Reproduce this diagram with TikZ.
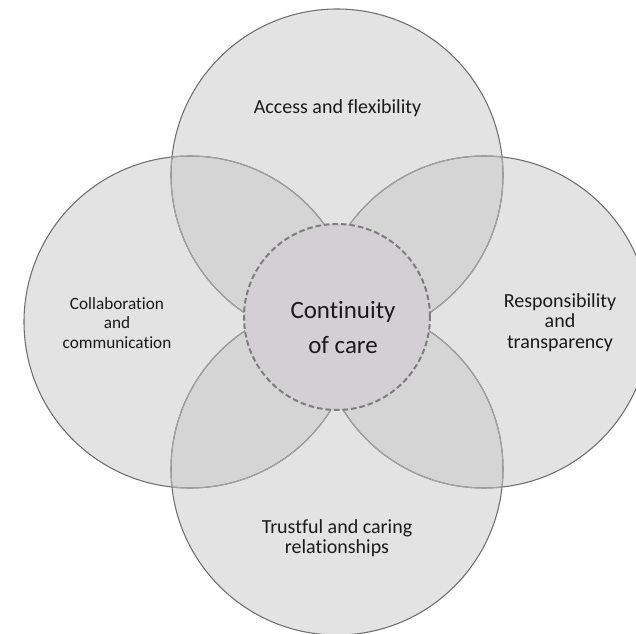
\documentclass[tikz,border=0pt]{standalone}
\usepackage{fontspec}
\setmainfont{Carlito}[Ligatures=NoCommon]
\definecolor{petal}{HTML}{E3E3E3}
\definecolor{lens}{HTML}{D5D5D5}
\definecolor{edge}{HTML}{6E6E6E}
\definecolor{inedge}{HTML}{A2A2A2}
\definecolor{core}{HTML}{D2D0D2}
\definecolor{coreedge}{HTML}{7E7E7E}
\definecolor{txt}{HTML}{1A1A1A}
\tikzset{
  label15/.style={text=txt, align=center, font=\fontsize{15}{15.4}\selectfont, inner sep=0pt},
  label13/.style={text=txt, align=center, font=\fontsize{12.9}{14.6}\selectfont, inner sep=0pt},
  corelabel/.style={text=txt, align=center, font=\fontsize{18.7}{26}\selectfont, inner sep=0pt},
  petaledge/.style={draw=edge, line width=0.8pt},
  petalinner/.style={draw=inedge, line width=0.8pt},
}
\begin{document}
\begin{tikzpicture}[x=0.75pt,y=-0.75pt]
\useasboundingbox (0,0) rectangle (636,634);
\def\R{166}
\coordinate (T) at (337,175);
\coordinate (L) at (190,322);
\coordinate (Rc) at (484,322);
\coordinate (B) at (337,469);
% base fills
\foreach \c in {T,L,Rc,B} \fill[petal] (\c) circle (\R);
% lens overlaps
\begin{scope}
  \clip (T) circle (\R);
  \fill[lens] (L) circle (\R);
  \fill[lens] (Rc) circle (\R);
\end{scope}
\begin{scope}
  \clip (B) circle (\R);
  \fill[lens] (L) circle (\R);
  \fill[lens] (Rc) circle (\R);
\end{scope}
% outer borders
\foreach \c in {T,L,Rc,B} \draw[petaledge] (\c) circle (\R);
% lighter borders inside overlaps
\begin{scope}
  \clip (T) circle (\R);
  \draw[petalinner] (L) circle (\R);
  \draw[petalinner] (Rc) circle (\R);
\end{scope}
\begin{scope}
  \clip (B) circle (\R);
  \draw[petalinner] (L) circle (\R);
  \draw[petalinner] (Rc) circle (\R);
\end{scope}
\begin{scope}
  \clip (L) circle (\R);
  \draw[petalinner] (T) circle (\R);
  \draw[petalinner] (B) circle (\R);
\end{scope}
\begin{scope}
  \clip (Rc) circle (\R);
  \draw[petalinner] (T) circle (\R);
  \draw[petalinner] (B) circle (\R);
\end{scope}
% centre circle
\node (core) [circle, fill=core, draw=coreedge, line width=1.5pt,
  dash pattern=on 4.2pt off 2.2pt, minimum size=139.5pt, inner sep=0pt] at (337,317) {};
% labels
\node (access) [label15] at (337.5,108) {Access and flexibility};
\node (collab) [label13] at (117,323) {Collaboration\\and\\communication};
\node (resp) [label15] at (560,322.5) {Responsibility\\and\\transparency};
\node (trust) [label15] at (337,538) {Trustful and caring\\relationships};
\node (cont) [corelabel] at (343,327.5) {Continuity\\of care};
\end{tikzpicture}
\end{document}
